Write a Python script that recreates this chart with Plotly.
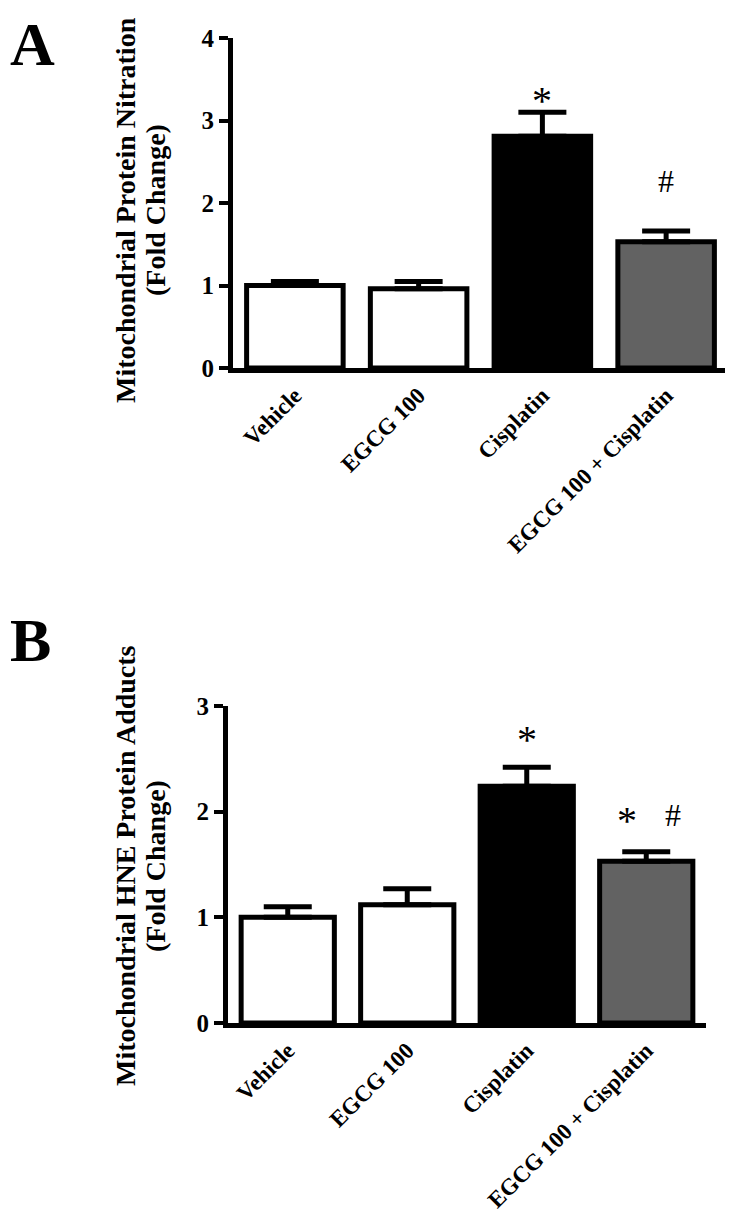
import plotly.graph_objects as go

# ---------------- data ----------------
categories = ["Vehicle", "EGCG 100", "Cisplatin", "EGCG 100 + Cisplatin"]
bar_colors = ["white", "white", "black", "#626262"]

nitration_mean = [1.00, 0.96, 2.81, 1.53]
nitration_sem = [0.05, 0.09, 0.29, 0.13]
nitration_ticks = [0, 1, 2, 3, 4]

hne_mean = [1.00, 1.12, 2.24, 1.53]
hne_sem = [0.10, 0.15, 0.18, 0.09]
hne_ticks = [0, 1, 2, 3]

title_a_lines = ["Mitochondrial Protein Nitration", "(Fold Change)"]
title_b_lines = ["Mitochondrial HNE Protein Adducts", "(Fold Change)"]

FONT = "Liberation Serif"
OFF = 8  # page body margin
W, H = 733 - OFF, 1218 - OFF

fig = go.Figure()

def add_bars(means, sems, xa, ya):
    fig.add_trace(go.Bar(
        x=categories, y=means, xaxis=xa, yaxis=ya,
        width=0.78,
        marker=dict(color=bar_colors, line=dict(color="black", width=5)),
        error_y=dict(type="data", array=sems, arrayminus=[0] * len(sems),
                     symmetric=False, color="black", thickness=5, width=24),
        showlegend=False,
    ))

add_bars(nitration_mean, nitration_sem, "x", "y")
add_bars(hne_mean, hne_sem, "x2", "y2")

def px_x(v):
    return (v - OFF) / W

def px_y(v):
    return 1 - (v - OFF) / H

xcommon = dict(type="category", range=[-0.5, 3.5], showline=True, linewidth=5,
               linecolor="black", ticks="", showgrid=False, zeroline=False,
               tickangle=-45, automargin=False,
               tickfont=dict(family=FONT, size=23, color="black", weight="bold"))
ycommon = dict(showline=True, linewidth=5, linecolor="black", ticks="outside",
               ticklen=9, tickwidth=4, tickcolor="black", showgrid=False,
               zeroline=False, automargin=False,
               tickfont=dict(family=FONT, size=25, color="black", weight="bold"))

fig.update_layout(
    width=W, height=H,
    margin=dict(l=0, r=0, t=0, b=0),
    paper_bgcolor="white", plot_bgcolor="white",
    bargap=0.22,
    xaxis=dict(domain=[px_x(233), px_x(728)], anchor="y", **xcommon),
    yaxis=dict(domain=[px_y(368), px_y(38)], anchor="x", range=[0, 4],
               tickvals=nitration_ticks, **ycommon),
    xaxis2=dict(domain=[px_x(228), px_x(706)], anchor="y2", **xcommon),
    yaxis2=dict(domain=[px_y(1023), px_y(706)], anchor="x2", range=[0, 3],
                tickvals=hne_ticks, **ycommon),
)

ann = []
# panel letters
ann.append(dict(text="A", x=0, y=1, xref="paper", yref="paper",
                xanchor="left", yanchor="top", showarrow=False,
                font=dict(family=FONT, size=62, color="black", weight="bold")))
ann.append(dict(text="B", x=0, y=px_y(604), xref="paper", yref="paper",
                xanchor="left", yanchor="top", showarrow=False,
                font=dict(family=FONT, size=62, color="black", weight="bold")))

# y-axis titles (two lines each)
def ytitle(lines, ycenter_px):
    for i, t in enumerate(lines):
        ann.append(dict(text=t, x=px_x(125 + 30 * i), y=px_y(ycenter_px),
                        xref="paper", yref="paper", xanchor="center",
                        yanchor="middle", textangle=-90, showarrow=False,
                        font=dict(family=FONT, size=28, color="black",
                                  weight="bold")))

ytitle(title_a_lines, 210)
ytitle(title_b_lines, 866)

# significance marks placed above each error-bar cap
def sig(text, idx, means, sems, xr, yr, lift, xshift=0, size=40):
    ann.append(dict(text=text, x=categories[idx], y=means[idx] + sems[idx],
                    xref=xr, yref=yr, xanchor="center", yanchor="middle",
                    yshift=lift, xshift=xshift, showarrow=False,
                    font=dict(family=FONT, size=size, color="black")))

sig("*", 2, nitration_mean, nitration_sem, "x", "y", 12)
sig("#", 3, nitration_mean, nitration_sem, "x", "y", 50, size=32)
sig("*", 2, hne_mean, hne_sem, "x2", "y2", 28)
sig("*", 3, hne_mean, hne_sem, "x2", "y2", 31, xshift=-19)
sig("#", 3, hne_mean, hne_sem, "x2", "y2", 37, xshift=27, size=32)

fig.update_layout(annotations=ann)

fig.write_html("out.html")
